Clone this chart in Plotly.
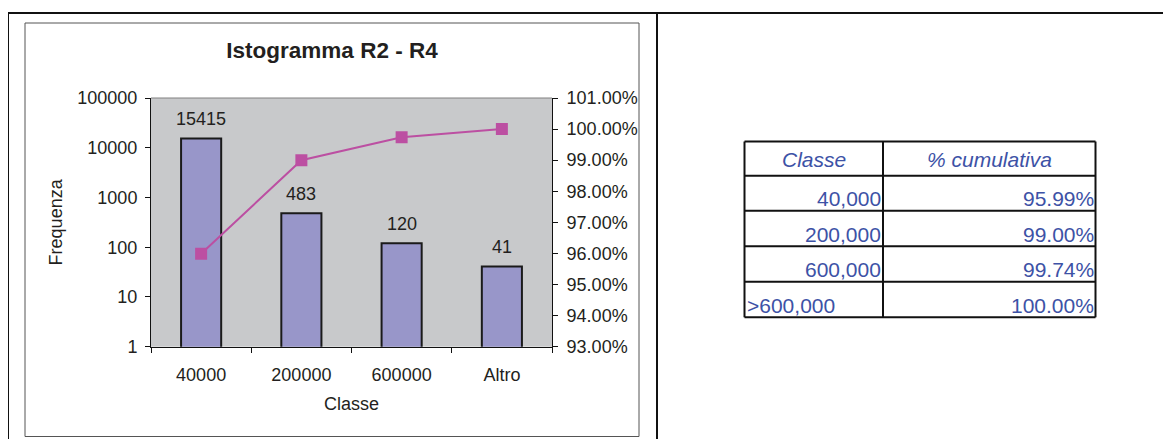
import math
import plotly.graph_objects as go

W, H = 1171, 439
OFF = 8  # page body margin of the browser

# chart data
classi = ["40000", "200000", "600000", "Altro"]
frequenza = [15415, 483, 120, 41]
cumulativa = [0.9599, 0.9900, 0.9974, 1.0000]

# table data
tab_header = ["Classe", "% cumulativa"]
tab_classi = ["40,000", "200,000", "600,000", ">600,000"]
tab_cumul = [f"{v:.2%}" for v in cumulativa]

FONT = "Arial, Liberation Sans, sans-serif"
TXT = "#231f20"
BLUE = "#3d52a6"
FS = 18


def px(x):
    return (x - OFF) / W


def py(y):
    return 1 - (y - OFF) / H


fig = go.Figure()

fig.add_trace(go.Bar(
    x=classi, y=frequenza,
    marker=dict(color="#9896c9", line=dict(color="#1a1a1a", width=2)),
    hoverinfo="x+y", showlegend=False,
))
fig.add_trace(go.Scatter(
    x=classi, y=cumulativa, yaxis="y2", mode="lines+markers",
    line=dict(color="#bc4fa2", width=2),
    marker=dict(symbol="square", size=12, color="#bc4fa2"),
    showlegend=False,
))

# value labels above the bars (category index, log value)
for i, f in enumerate(frequenza):
    fig.add_annotation(x=i, y=math.log10(f), xref="x", yref="y",
                       text=str(f), showarrow=False, yanchor="bottom", yshift=7,
                       font=dict(size=FS, color=TXT, family=FONT))

axis_common = dict(showgrid=False, zeroline=False, linecolor="#111111", linewidth=1,
                   tickcolor="#111111", ticklen=5, tickwidth=1, automargin=False,
                   tickfont=dict(size=FS, color=TXT, family=FONT))
overlay_common = dict(showticklabels=False, showline=False, showgrid=False, zeroline=False,
                      ticks="inside", ticklen=5, tickcolor="#111111", automargin=False)

fig.update_layout(
    width=W, height=H,
    margin=dict(l=0, r=0, t=0, b=0, pad=0),
    paper_bgcolor="white", plot_bgcolor="#c8c9cb",
    font=dict(family=FONT, color=TXT),
    bargap=0.6,
    title=dict(text="<b>Istogramma R2 - R4</b>", x=px(332), xanchor="center",
               y=py(50), yanchor="middle", automargin=False,
               font=dict(size=22.5, color=TXT, family=FONT)),
    xaxis=dict(domain=[px(151), px(552)], range=[-0.5, 3.5], type="category",
               tickson="boundaries", ticks="outside", showline=True, ticklabelstandoff=12,
               title=dict(text="Classe", standoff=13, font=dict(size=FS, color=TXT, family=FONT)),
               **axis_common),
    yaxis=dict(domain=[py(346.7), py(98)], type="log", range=[0, 5], dtick=1,
               tickformat="d", ticks="outside", showline=True, ticklabelstandoff=4,
               title=dict(text="Frequenza", standoff=10, font=dict(size=FS, color=TXT, family=FONT)),
               **axis_common),
    yaxis2=dict(overlaying="y", side="right", anchor="x", range=[0.93, 1.01], dtick=0.01,
                tickformat=".2%", ticks="outside", showline=True, ticklabelstandoff=5,
                **axis_common),
    yaxis3=dict(overlaying="y", side="left", anchor="x", type="log", range=[0, 5], dtick=1,
                **overlay_common),
    yaxis4=dict(overlaying="y", side="right", anchor="x", range=[0.93, 1.01], dtick=0.01,
                **overlay_common),
    xaxis2=dict(overlaying="x", anchor="y", type="category", categoryarray=classi,
                categoryorder="array", range=[-0.5, 3.5], tickson="boundaries",
                **overlay_common),
)

P = dict(xref="paper", yref="paper")
# page frame lines
shapes = [
    dict(type="line", x0=px(8), x1=1, y0=py(13), y1=py(13), line=dict(color="#111", width=2), **P),
    dict(type="line", x0=px(8), x1=px(8), y0=py(13), y1=0, line=dict(color="#111", width=2), **P),
    dict(type="line", x0=px(657), x1=px(657), y0=py(13), y1=0, line=dict(color="#111", width=2), **P),
    # chart area border
    dict(type="rect", x0=px(25), x1=px(639), y0=py(23), y1=py(436.5),
         line=dict(color="#555555", width=1), **P),
    # plot area top edge
    dict(type="line", xref="x domain", yref="y domain", x0=0, x1=1, y0=1, y1=1,
         line=dict(color="#808080", width=1)),
]

# table grid
col_x = [744.5, 883, 1095.5]
row_y = [141.5, 175.7, 210.8, 246.2, 281.8, 317.3]
for yv in row_y:
    shapes.append(dict(type="line", x0=px(col_x[0]), x1=px(col_x[-1]), y0=py(yv), y1=py(yv),
                       line=dict(color="#111", width=2), **P))
for xv in col_x:
    shapes.append(dict(type="line", x0=px(xv), x1=px(xv), y0=py(row_y[0]), y1=py(row_y[-1]),
                       line=dict(color="#111", width=2), **P))
fig.update_layout(shapes=shapes)

tfont = dict(size=21, color=BLUE, family=FONT)
# header
for i, h in enumerate(tab_header):
    fig.add_annotation(x=px((col_x[i] + col_x[i + 1]) / 2), y=py(row_y[1] - 16),
                       text=f"<i>{h}</i>", showarrow=False,
                       xanchor="center", yanchor="middle", font=tfont, **P)
# rows
for r, (c, p) in enumerate(zip(tab_classi, tab_cumul)):
    yb = py(row_y[r + 2] - 12)
    if c.startswith(">"):
        fig.add_annotation(x=px(col_x[0]), y=yb, text=c.replace(">", "&gt;"),
                           showarrow=False, xanchor="left", yanchor="middle", font=tfont, **P)
    else:
        fig.add_annotation(x=px(col_x[1]), y=yb, text=c,
                           showarrow=False, xanchor="right", yanchor="middle", font=tfont, **P)
    fig.add_annotation(x=px(col_x[2]), y=yb, text=p,
                       showarrow=False, xanchor="right", yanchor="middle", font=tfont, **P)

fig.write_html("out.html")
